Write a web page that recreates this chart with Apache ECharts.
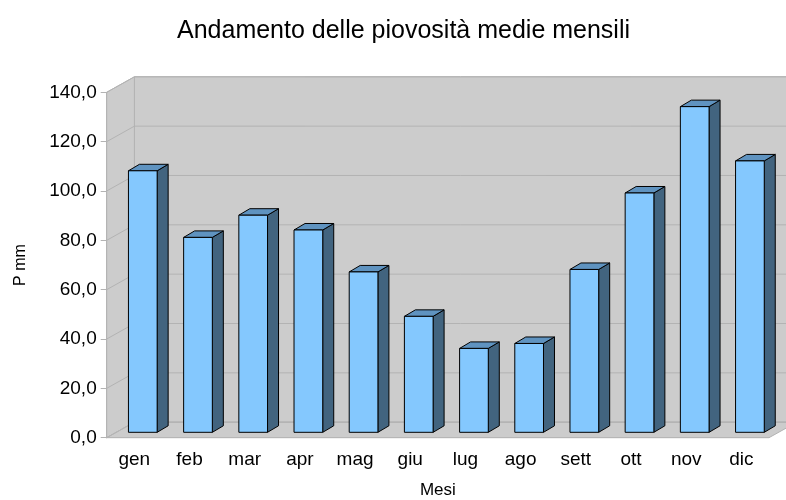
<!DOCTYPE html>
<html lang="it">
<head>
  <meta charset="UTF-8">
  <title>Piovosità</title>
  <script src="https://cdn.jsdelivr.net/npm/echarts@6/dist/echarts.min.js"></script>
  <style>
    html, body { margin: 0; padding: 0; background: #fff; }
  </style>
</head>
<body>
<div id="main" style="width: 786px;height:500px;"></div>
<script type="text/javascript">
  const months = ['gen', 'feb', 'mar', 'apr', 'mag', 'giu', 'lug', 'ago', 'sett', 'ott', 'nov', 'dic']
  const rain = [106, 79, 88, 82, 65, 47, 34, 36, 66, 97, 132, 110]
  const yTicks = [0, 20, 40, 60, 80, 100, 120, 140]

  // depth of the fake 3D box (back wall offset) and of the bars
  const DX = 27.7, DY = -15.5
  const BX = 8.5, BY = -5.4
  const SX = 11, SY = -6.5
  const FONT = 'Liberation Sans'

  const Chart = echarts.init(document.getElementById('main'))

  function renderWalls(params, api) {
    const cs = params.coordSys
    const x0 = cs.x, y0 = cs.y, w = cs.width, h = cs.height
    const wallStyle = { fill: '#cccccc', stroke: '#b3b3b3', lineWidth: 1 }
    const lineStyle = { stroke: '#b3b3b3', lineWidth: 1 }
    const children = [
      { type: 'rect', shape: { x: x0 + DX, y: y0 + DY, width: w, height: h }, style: { fill: '#cccccc', stroke: '#b3b3b3' } },
      { type: 'polygon', shape: { points: [[x0, y0], [x0 + DX, y0 + DY], [x0 + DX, y0 + h + DY], [x0, y0 + h]] }, style: wallStyle },
      { type: 'polygon', shape: { points: [[x0, y0 + h], [x0 + DX, y0 + h + DY], [x0 + w + DX, y0 + h + DY], [x0 + w, y0 + h]] }, style: wallStyle }
    ]
    yTicks.forEach(function (t) {
      const y = api.coord([0, t])[1]
      children.push({ type: 'line', shape: { x1: x0, y1: y, x2: x0 + DX, y2: y + DY }, style: lineStyle })
      children.push({ type: 'line', shape: { x1: x0 + DX, y1: y + DY, x2: x0 + w + DX, y2: y + DY }, style: lineStyle })
    })
    return { type: 'group', children: children }
  }

  function renderBar(params, api) {
    const i = api.value(0), v = api.value(1)
    const base = api.coord([i, 0]), top = api.coord([i, v])
    const w = api.size([1, 0])[0] * 0.52
    const x1 = base[0] - w / 2 + BX, x2 = x1 + w
    const yb = base[1] + BY, yt = top[1] + BY
    const edge = { stroke: '#000', lineWidth: 1 }
    return {
      type: 'group',
      children: [
        { type: 'polygon', shape: { points: [[x2, yt], [x2 + SX, yt + SY], [x2 + SX, yb + SY], [x2, yb]] }, style: Object.assign({ fill: '#42647f' }, edge) },
        { type: 'polygon', shape: { points: [[x1, yt], [x2, yt], [x2 + SX, yt + SY], [x1 + SX, yt + SY]] }, style: Object.assign({ fill: '#5f93c0' }, edge) },
        { type: 'rect', shape: { x: x1, y: yt, width: w, height: yb - yt }, style: Object.assign({ fill: '#84c8fe' }, edge) }
      ]
    }
  }

  const option = {
    animation: false,
    title: {
      text: 'Andamento delle piovosità medie mensili',
      left: 172,
      top: 14,
      textStyle: { fontFamily: FONT, fontSize: 25, fontWeight: 'normal', color: '#000' }
    },
    grid: { left: 106.7, right: 17, top: 92.3, bottom: 62.3, outerBoundsMode: 'none' },
    xAxis: {
      type: 'category',
      data: months,
      name: 'Mesi',
      nameLocation: 'middle',
      nameGap: 44,
      nameTextStyle: { fontFamily: FONT, fontSize: 17, color: '#000' },
      axisLine: { lineStyle: { color: '#b3b3b3' } },
      axisTick: { length: 6, lineStyle: { color: '#b3b3b3' } },
      axisLabel: { margin: 13, fontFamily: FONT, fontSize: 19, color: '#000' }
    },
    yAxis: {
      type: 'value',
      min: 0,
      max: 140,
      interval: 20,
      name: 'P mm',
      nameLocation: 'middle',
      nameGap: 78,
      nameTextStyle: { fontFamily: FONT, fontSize: 16, color: '#000' },
      axisLine: { show: true, lineStyle: { color: '#b3b3b3' } },
      axisTick: { show: true, length: 6, lineStyle: { color: '#b3b3b3' } },
      splitLine: { show: false },
      axisLabel: {
        margin: 10, fontFamily: FONT, fontSize: 19, color: '#000',
        formatter: function (v) { return v.toFixed(1).replace('.', ',') }
      }
    },
    series: [{
      name: 'walls',
      type: 'custom',
      z: 1,
      silent: true,
      renderItem: renderWalls,
      data: [[0, 0]]
    }, {
      name: 'P mm',
      type: 'custom',
      z: 3,
      renderItem: renderBar,
      data: rain.map(function (v, i) { return [i, v] })
    }]
  }

  Chart.setOption(option)
</script>
</body>
</html>
